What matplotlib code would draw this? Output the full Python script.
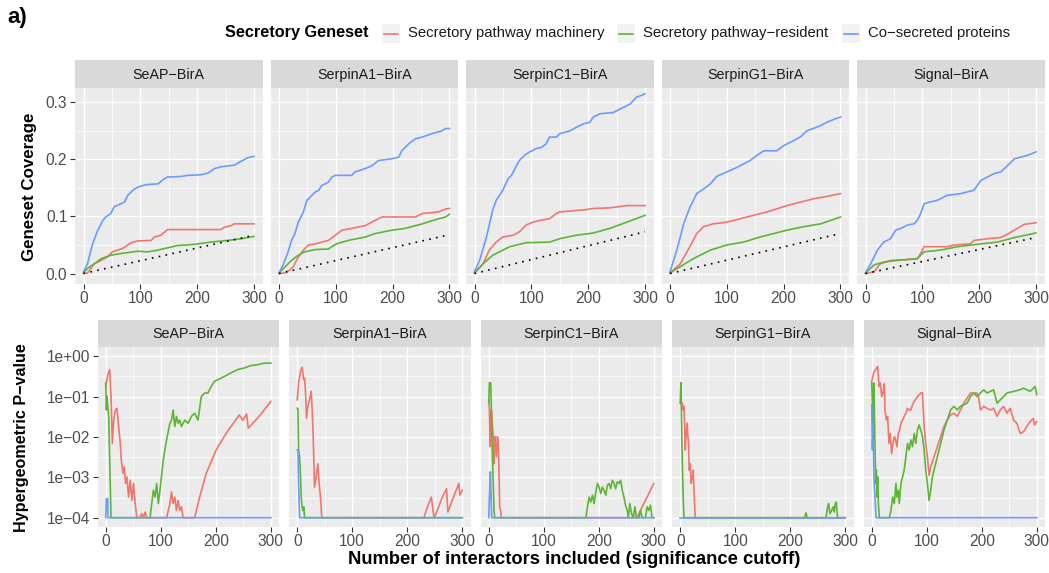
import matplotlib.pyplot as plt
from matplotlib.patches import Rectangle
import numpy as np

plt.rcParams['font.family'] = ['Liberation Sans', 'DejaVu Sans']

W, H = 1049, 573

baits = ["SeAP−BirA", "SerpinA1−BirA", "SerpinC1−BirA", "SerpinG1−BirA", "Signal−BirA"]
genesets = ["Secretory pathway machinery", "Secretory pathway−resident", "Co−secreted proteins"]
colors = ["#F0766E", "#5DB536", "#6A9BFF"]

# expected (random) coverage at 300 interactors, dotted line
expected_end = [0.067, 0.068, 0.073, 0.070, 0.063]

# --- geneset coverage, (interactors, coverage) ---
cov_seap_mach = [(0, 0), (7, 0.001), (13, 0.009), (19, 0.017), (31, 0.023), (42, 0.029), (51, 0.038), (60, 0.041),
                 (69, 0.044), (78, 0.050), (84, 0.054), (95, 0.057), (119, 0.058), (125, 0.064), (136, 0.067),
                 (148, 0.077), (242, 0.077), (248, 0.081), (260, 0.084), (265, 0.087), (300, 0.087)]
cov_seap_res = [(0, 0.001), (7, 0.009), (19, 0.017), (31, 0.026), (48, 0.032), (66, 0.035), (95, 0.039), (113, 0.038),
                (131, 0.041), (148, 0.045), (165, 0.049), (195, 0.051), (224, 0.055), (254, 0.058), (278, 0.061),
                (300, 0.065)]
cov_seap_cosec = [(0, 0.003), (7, 0.017), (16, 0.052), (24, 0.073), (34, 0.093), (39, 0.099), (48, 0.105), (54, 0.117),
                  (63, 0.121), (72, 0.125), (78, 0.137), (87, 0.146), (95, 0.151), (104, 0.154), (113, 0.156),
                  (131, 0.157), (142, 0.166), (148, 0.169), (171, 0.170), (184, 0.172), (207, 0.173), (219, 0.176),
                  (231, 0.184), (242, 0.187), (266, 0.190), (278, 0.197), (289, 0.203), (300, 0.205)]

cov_a1_mach = [(0, 0), (11, 0.001), (19, 0.006), (25, 0.012), (34, 0.029), (43, 0.041), (52, 0.050), (64, 0.052),
               (75, 0.055), (87, 0.058), (99, 0.067), (111, 0.076), (128, 0.079), (152, 0.084), (169, 0.093),
               (181, 0.099), (240, 0.099), (252, 0.105), (281, 0.108), (293, 0.113), (300, 0.114)]
cov_a1_res = [(0, 0.001), (11, 0.012), (22, 0.023), (34, 0.032), (45, 0.038), (64, 0.042), (87, 0.043), (93, 0.047),
              (101, 0.052), (122, 0.058), (152, 0.064), (169, 0.070), (199, 0.076), (222, 0.079), (252, 0.087),
              (281, 0.096), (293, 0.099), (300, 0.104)]
cov_a1_cosec = [(0, 0.001), (8, 0.017), (16, 0.038), (22, 0.058), (28, 0.070), (34, 0.090), (43, 0.108), (49, 0.128),
                (55, 0.134), (64, 0.143), (70, 0.146), (75, 0.154), (87, 0.160), (93, 0.169), (99, 0.172),
                (128, 0.172), (134, 0.178), (152, 0.184), (164, 0.189), (175, 0.198), (199, 0.201), (211, 0.204),
                (216, 0.215), (228, 0.227), (240, 0.236), (252, 0.239), (269, 0.245), (287, 0.250), (293, 0.254),
                (300, 0.254)]

cov_c1_mach = [(0, 0.001), (15, 0.017), (26, 0.041), (38, 0.055), (50, 0.064), (68, 0.067), (79, 0.073), (91, 0.085),
               (103, 0.090), (115, 0.093), (132, 0.096), (144, 0.105), (150, 0.108), (174, 0.110), (197, 0.112),
               (209, 0.114), (238, 0.115), (268, 0.119), (300, 0.119)]
cov_c1_res = [(0, 0.001), (15, 0.017), (32, 0.032), (62, 0.047), (91, 0.054), (132, 0.055), (150, 0.061),
              (179, 0.067), (209, 0.071), (238, 0.079), (268, 0.090), (300, 0.102)]
cov_c1_cosec = [(0, 0.003), (9, 0.023), (21, 0.064), (32, 0.111), (38, 0.128), (50, 0.146), (59, 0.166), (65, 0.172),
                (74, 0.189), (79, 0.198), (88, 0.207), (97, 0.213), (109, 0.219), (118, 0.221), (126, 0.227),
                (132, 0.239), (144, 0.239), (150, 0.245), (168, 0.250), (179, 0.256), (191, 0.262), (203, 0.265),
                (209, 0.274), (221, 0.280), (244, 0.282), (262, 0.291), (274, 0.297), (285, 0.309), (294, 0.312),
                (300, 0.315)]

cov_g1_mach = [(0, 0.001), (18, 0.017), (35, 0.047), (47, 0.070), (59, 0.082), (76, 0.087), (100, 0.090),
               (124, 0.096), (147, 0.102), (171, 0.108), (206, 0.119), (229, 0.125), (253, 0.131), (276, 0.135),
               (300, 0.140)]
cov_g1_res = [(0, 0.001), (18, 0.012), (41, 0.026), (71, 0.041), (100, 0.050), (129, 0.055), (159, 0.064),
              (206, 0.076), (235, 0.082), (265, 0.087), (300, 0.099)]
cov_g1_cosec = [(0, 0.003), (12, 0.041), (24, 0.087), (35, 0.116), (47, 0.140), (59, 0.148), (71, 0.157), (82, 0.170),
                (100, 0.178), (118, 0.186), (141, 0.198), (153, 0.207), (165, 0.215), (188, 0.215), (200, 0.224),
                (218, 0.233), (229, 0.239), (241, 0.250), (265, 0.259), (276, 0.265), (291, 0.271), (300, 0.274)]

cov_sig_mach = [(0, 0), (15, 0.003), (26, 0.017), (44, 0.023), (68, 0.024), (91, 0.026), (97, 0.035), (103, 0.047),
                (144, 0.047), (156, 0.050), (185, 0.052), (191, 0.058), (215, 0.061), (238, 0.063), (250, 0.069),
                (262, 0.076), (279, 0.086), (300, 0.089)]
cov_sig_res = [(0, 0.001), (15, 0.015), (32, 0.020), (56, 0.023), (91, 0.026), (103, 0.038), (132, 0.041),
               (162, 0.047), (203, 0.052), (232, 0.055), (262, 0.063), (300, 0.071)]
cov_sig_cosec = [(0, 0.001), (9, 0.017), (21, 0.041), (32, 0.055), (44, 0.061), (53, 0.076), (62, 0.079), (74, 0.085),
                 (85, 0.087), (91, 0.093), (97, 0.105), (103, 0.122), (112, 0.125), (126, 0.128), (144, 0.137),
                 (168, 0.140), (191, 0.146), (203, 0.163), (226, 0.175), (238, 0.178), (250, 0.189), (262, 0.201),
                 (285, 0.207), (300, 0.213)]

# --- hypergeometric p-value, (interactors, log10 p), floored at 1e-04 ---
pv_seap_mach = [(0, -0.75), (3.6, -0.46), (7.2, -0.33), (9.6, -1.0), (12, -2.16), (14.4, -1.58), (17.4, -1.33),
                (20.4, -1.29), (23.4, -1.74), (26.5, -2.16), (28.3, -2.57), (31.3, -2.9), (33.7, -2.74),
                (36.1, -3.15), (38.5, -2.99), (41.5, -3.49), (44.5, -3.07), (47.5, -3.57), (50.5, -3.15),
                (53.5, -3.65), (56.5, -4), (62.5, -4), (65.5, -3.9), (68.5, -4), (71.5, -3.86), (74.5, -4),
                (110.6, -4), (116.6, -3.65), (119.6, -3.36), (122.6, -3.65), (125.6, -3.49), (128.6, -3.82),
                (131.6, -3.57), (134.6, -3.82), (137.6, -3.73), (140.7, -4), (161.7, -4), (170.7, -3.49),
                (182.7, -2.9), (200.8, -2.32), (218.8, -1.91), (242.9, -1.45), (248.9, -1.59), (256.1, -1.43),
                (259.1, -1.78), (278.9, -1.49), (300, -1.12)]
pv_seap_res = [(0, -0.66), (1.2, -1.33), (2.4, -1.0), (3.6, -1.24), (5.4, -1.49), (7.2, -2.57), (9.6, -4),
               (80.6, -4), (83.6, -3.65), (86.6, -3.32), (89.6, -3.49), (92.6, -3.15), (95.6, -3.65), (98.6, -3.32),
               (104.6, -2.57), (110.6, -2.07), (116.6, -1.66), (119.6, -1.58), (122.6, -1.33), (125.6, -1.74),
               (128.6, -1.49), (131.6, -1.66), (134.6, -1.58), (137.6, -1.74), (143.7, -1.58), (149.7, -1.66),
               (155.7, -1.49), (161.7, -1.41), (167.7, -1.58), (173.7, -1.0), (179.7, -0.91), (185.7, -0.91),
               (191.7, -0.75), (197.7, -0.62), (203.7, -0.58), (215.8, -0.5), (227.8, -0.41), (239.8, -0.33),
               (251.9, -0.29), (263.9, -0.23), (275.9, -0.21), (287.9, -0.17), (300, -0.17)]
pv_seap_cosec = [(0, -4), (1.2, -3.53), (3.6, -3.53), (4.2, -4), (300, -4)]

pv_a1_mach = [(0, -1.08), (2.4, -0.66), (6, -0.37), (9.1, -0.27), (11.5, -0.58), (13.3, -0.54), (15.1, -0.91),
              (16.9, -1.54), (19.3, -1.24), (22.3, -1.08), (25.3, -0.87), (27.2, -1.33), (29, -1.99),
              (31.4, -3.24), (34.4, -2.99), (37.4, -2.66), (39.8, -3.15), (42.2, -3.49), (44.6, -4), (230.5, -4),
              (236.6, -3.73), (243.8, -3.49), (248.6, -4), (254.7, -3.82), (263.7, -3.49), (271.5, -3.28),
              (273.9, -3.86), (281.8, -3.57), (287.8, -3.36), (293.8, -3.15), (295.7, -3.44), (300, -3.32)]
pv_a1_res = [(0, -1.29), (1.2, -1.29), (2.4, -2.32), (4.2, -2.49), (6, -2.99), (7.2, -3.49), (8.5, -3.69),
             (10.3, -3.82), (12.1, -3.73), (13.3, -4), (300, -4)]
pv_a1_cosec = [(0, -2.32), (1.2, -2.32), (2.4, -3.15), (4.2, -4), (300, -4)]

pv_c1_mach = [(0, -1.08), (1.2, -1.33), (2.4, -2.24), (3.6, -1.74), (4.8, -1.33), (6.6, -1.66), (8.4, -2.07),
              (9.6, -2.66), (10.8, -1.99), (12, -2.16), (13.9, -2.49), (15.7, -1.99), (16.9, -2.07), (18.1, -2.57),
              (19.9, -3.73), (21.7, -3.82), (22.9, -4), (269.9, -4), (275.9, -3.82), (281.9, -3.65),
              (287.9, -3.49), (293.9, -3.32), (300, -3.15)]
pv_c1_res = [(0, -1.16), (1.2, -0.65), (3.6, -0.66), (4.8, -1.33), (6, -2.16), (7.8, -2.99), (9.6, -3.82),
             (10.8, -4), (176.5, -4), (179.5, -3.73), (182.5, -3.49), (185.5, -3.61), (188.6, -3.44), (191.6, -3.65),
             (194.6, -3.36), (197.6, -3.15), (200.6, -3.24), (203.6, -3.4), (206.6, -3.24), (209.6, -3.32),
             (212.7, -3.44), (215.7, -3.2), (218.7, -3.15), (221.7, -3.28), (224.7, -3.07), (227.7, -3.15),
             (230.7, -3.28), (233.7, -3.11), (236.7, -3.15), (239.8, -3.07), (242.8, -3.32), (245.8, -3.49),
             (248.8, -3.69), (251.8, -3.82), (253.6, -4), (256.6, -3.65), (259.6, -3.9), (262.7, -4),
             (265.7, -3.73), (268.7, -4), (272.9, -4), (275.9, -3.82), (278.9, -4), (284.9, -4), (287.9, -3.73),
             (290.9, -3.82), (293.9, -3.69), (297, -4), (300, -4)]
pv_c1_cosec = [(0, -4), (1.2, -3.49), (3, -2.86), (4.2, -3.49), (5.4, -4), (300, -4)]

pv_g1_mach = [(0, -1.16), (1.8, -1.18), (3.6, -1.16), (5.4, -1.33), (6.7, -1.24), (7.9, -1.66), (9.1, -2.32),
              (10.3, -1.99), (11.5, -1.83), (12.7, -1.66), (13.9, -1.99), (15.1, -2.16), (16.3, -2.82),
              (18.1, -2.66), (19.9, -3.15), (21.8, -2.99), (23.6, -2.82), (24.8, -3.24), (27.2, -4), (300, -4)]
pv_g1_res = [(0, -1.16), (1.2, -0.65), (3, -2.16), (4.8, -3.24), (6.7, -4), (225.7, -4), (228.7, -3.88),
             (230.5, -4), (265, -4), (268, -3.73), (269.8, -3.65), (272.2, -3.9), (275.2, -3.82), (278.2, -3.73),
             (280, -3.86), (281.8, -3.65), (283.6, -3.61), (286, -4), (300, -4)]
pv_g1_cosec = [(0, -4), (300, -4)]

pv_sig_mach = [(0, -0.62), (3.6, -0.41), (7.2, -0.33), (10.8, -0.25), (13.3, -0.75), (15.7, -0.66), (18.1, -1.0),
               (20.5, -0.91), (22.9, -0.68), (24.1, -1.33), (26.5, -1.58), (28.9, -1.49), (31.3, -2.16),
               (33.7, -1.91), (36.1, -2.41), (38.6, -2.16), (41, -1.99), (43.4, -2.07), (45.8, -2.24),
               (48.2, -1.91), (50.6, -1.83), (53, -1.66), (56, -1.58), (59, -1.49), (62, -1.41), (65.1, -1.29),
               (68.1, -1.33), (71.1, -1.33), (74.1, -1.2), (77.1, -1.12), (83.1, -1.0), (89.2, -0.91),
               (92.2, -0.9), (95.2, -1.74), (98.2, -2.16), (101.2, -2.49), (104.2, -2.95), (107.2, -2.74),
               (113.3, -2.49), (119.3, -2.24), (125.3, -1.99), (131.3, -1.74), (137.3, -1.58), (143.4, -1.45),
               (149.4, -1.41), (155.4, -1.49), (161.4, -1.33), (167.5, -1.16), (179.5, -0.91), (191.6, -0.91),
               (194.6, -1.04), (197.6, -1.33), (203.6, -1.24), (209.6, -1.29), (215.7, -1.33), (221.7, -1.29),
               (227.7, -1.49), (233.7, -1.33), (239.8, -1.24), (245.8, -1.41), (251.8, -1.29), (257.8, -1.58),
               (263.9, -1.66), (269.9, -1.91), (275.9, -1.87), (281.9, -1.74), (287.9, -1.62), (293.9, -1.54),
               (296, -1.7), (300, -1.62)]
pv_sig_res = [(0, -0.66), (1.2, -1.16), (2.4, -1.99), (3.6, -0.66), (4.8, -1.33), (6, -2.32), (7.2, -3.15),
              (8.4, -2.82), (9.6, -3.49), (10.8, -2.99), (12, -3.65), (13.9, -4), (31.9, -4), (34.9, -3.82),
              (38, -3.49), (41, -3.65), (44, -3.15), (45.8, -3.49), (48.2, -3.32), (50, -3.65), (53, -3.15),
              (56, -2.99), (59, -2.82), (62, -2.49), (65.1, -2.16), (68.1, -2.32), (71.1, -2.07), (74.1, -2.24),
              (77.1, -1.91), (80.1, -2.16), (83.1, -1.83), (86.1, -1.7), (89.2, -1.83), (92.2, -1.99),
              (95.2, -2.32), (98.2, -2.82), (101.2, -3.15), (104.2, -3.57), (107.2, -3.32), (110.2, -2.99),
              (113.3, -2.82), (119.3, -2.49), (125.3, -2.16), (131.3, -1.83), (137.3, -1.58), (143.4, -1.33),
              (149.4, -1.24), (155.4, -1.33), (161.4, -1.24), (173.5, -1.16), (179.5, -1.0), (185.5, -0.91),
              (191.6, -1.0), (197.6, -0.91), (203.6, -0.83), (209.6, -0.91), (221.7, -0.83), (227.7, -1.16),
              (233.7, -1.08), (239.8, -1.0), (245.8, -0.91), (257.8, -0.87), (269.9, -0.83), (275.9, -0.79),
              (281.9, -0.83), (287.9, -0.87), (293.9, -0.79), (296.9, -0.75), (300, -0.95)]
pv_sig_cosec = [(0, -1.2), (1.2, -2.32), (2.4, -1.66), (3.6, -2.82), (4.8, -3.24), (6, -3.49), (7.8, -4), (300, -4)]

coverage = [
    [cov_seap_mach, cov_seap_res, cov_seap_cosec],
    [cov_a1_mach, cov_a1_res, cov_a1_cosec],
    [cov_c1_mach, cov_c1_res, cov_c1_cosec],
    [cov_g1_mach, cov_g1_res, cov_g1_cosec],
    [cov_sig_mach, cov_sig_res, cov_sig_cosec],
]
pvalues = [
    [pv_seap_mach, pv_seap_res, pv_seap_cosec],
    [pv_a1_mach, pv_a1_res, pv_a1_cosec],
    [pv_c1_mach, pv_c1_res, pv_c1_cosec],
    [pv_g1_mach, pv_g1_res, pv_g1_cosec],
    [pv_sig_mach, pv_sig_res, pv_sig_cosec],
]

fig = plt.figure(figsize=(W / 100, H / 100), dpi=100)


def px_axes(left, top, width, height):
    return fig.add_axes([left / W, 1 - (top + height) / H, width / W, height / H])


def style_panel(ax):
    ax.set_facecolor("#EBEBEB")
    for s in ax.spines.values():
        s.set_visible(False)
    ax.grid(True, which='major', color='white', lw=1.0)
    ax.grid(True, which='minor', color='white', lw=0.5)
    ax.set_axisbelow(True)
    ax.tick_params(which='major', length=3.5, width=0.8, color='#333333', labelcolor='#4D4D4D',
                   labelsize=11.2, pad=2)
    ax.tick_params(which='minor', length=0)


def strip(left, top, width, height, label):
    s = px_axes(left, top, width, height)
    s.set_facecolor("#D9D9D9")
    s.set_xticks([])
    s.set_yticks([])
    for sp in s.spines.values():
        sp.set_visible(False)
    s.text(0.5, 0.48, label, ha='center', va='center', fontsize=10.3, color='#1A1A1A', transform=s.transAxes)


# top row: geneset coverage
for i, bait in enumerate(baits):
    left = 75 + i * 195.5
    strip(left, 60, 187.5, 28, bait)
    ax = px_axes(left, 88, 187.5, 195.5)
    style_panel(ax)
    for pts, c in zip(coverage[i], colors):
        xs, ys = zip(*pts)
        ax.plot(xs, ys, color=c, lw=1.2)
    ax.plot([0, 300], [0, expected_end[i]], color='black', lw=1.2, linestyle=(0, (1, 3.2)))
    ax.set_xlim(-15, 315)
    ax.set_ylim(-0.0175, 0.325)
    ax.set_xticks([0, 100, 200, 300])
    ax.set_xticks([50, 150, 250], minor=True)
    ax.set_yticks([0, 0.1, 0.2, 0.3])
    ax.set_yticks([0.05, 0.15, 0.25], minor=True)
    if i == 0:
        ax.set_yticklabels(["0.0", "0.1", "0.2", "0.3"])
    else:
        ax.tick_params(axis='y', which='major', length=0, labelleft=False)

# bottom row: hypergeometric p-value
for i, bait in enumerate(baits):
    left = 97.5 + i * 191.5
    strip(left, 320, 181.5, 27, bait)
    ax = px_axes(left, 347, 181.5, 180)
    style_panel(ax)
    ax.set_yscale('log')
    for pts, c in zip(pvalues[i], colors):
        xs, ys = zip(*pts)
        ax.plot(xs, 10.0 ** np.array(ys, dtype=float), color=c, lw=1.2)
    ax.set_xlim(-15, 315)
    ax.set_ylim(10 ** -4.23, 10 ** 0.23)
    ax.set_xticks([0, 100, 200, 300])
    ax.set_xticks([50, 150, 250], minor=True)
    ax.tick_params(axis='x', which='major', pad=1.5)
    ax.set_yticks([1, 1e-1, 1e-2, 1e-3, 1e-4])
    ax.set_yticks(10.0 ** np.array([-0.5, -1.5, -2.5, -3.5]), minor=True)
    ax.yaxis.set_minor_formatter(plt.NullFormatter())
    if i == 0:
        ax.set_yticklabels(["1e+00", "1e−01", "1e−02", "1e−03", "1e−04"])
    else:
        ax.tick_params(axis='y', which='major', length=0, labelleft=False)

# titles and legend drawn in pixel space
over = fig.add_axes([0, 0, 1, 1], facecolor='none')
over.set_xlim(0, W)
over.set_ylim(H, 0)
over.axis('off')

over.text(7, 18, "a)", fontsize=16, fontweight='bold', va='center', ha='left')
over.text(30, 187, "Geneset Coverage", rotation=90, fontsize=12.2, fontweight='bold', ha='center', va='center')
over.text(22, 438, "Hypergeometric P−value", rotation=90, fontsize=11.6, fontweight='bold', ha='center', va='center')
over.text(574, 560, "Number of interactors included (significance cutoff)", fontsize=13.2, fontweight='bold',
          ha='center', va='center')

over.text(225, 33, "Secretory Geneset", fontsize=11.7, fontweight='bold', ha='left', va='center')
key_x = [382, 617, 842]
for kx, lab, c in zip(key_x, genesets, colors):
    over.add_patch(Rectangle((kx, 24), 18, 19, facecolor='#F2F2F2', edgecolor='none'))
    over.plot([kx + 2, kx + 16], [33.5, 33.5], color=c, lw=1.2)
    over.text(kx + 26, 33.5, lab, fontsize=10.75, ha='left', va='center', color='#1A1A1A')

plt.savefig("out.png", dpi=100)
